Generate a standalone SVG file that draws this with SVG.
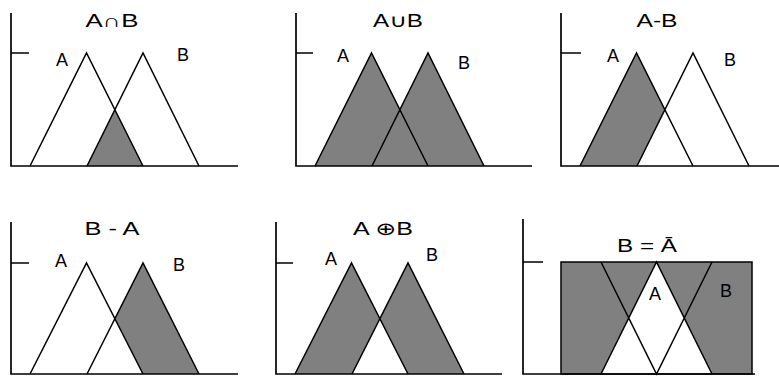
<svg xmlns="http://www.w3.org/2000/svg" width="779" height="376" viewBox="0 0 779 376">
<style>
.ax{stroke:#000;stroke-width:1.7;fill:none}
.tri{stroke:#000;stroke-width:1.5;fill:none;stroke-linejoin:miter}
.sh{fill:#808080;stroke:none}
.lbl{font-family:"Liberation Sans","DejaVu Sans",sans-serif;font-size:18px;fill:#000;text-anchor:middle}
</style>
<rect width="779" height="376" fill="#fff"/>

<g id="p1">
 <path class="sh" d="M87,166 L114.8,110 L143,166 Z"/>
 <path class="ax" d="M11,13 V166 H238 M11,53 H29"/>
 <path class="tri" d="M30,166 L86.5,53 L143,166 M87,166 L143,53 L199,166"/>
 <text class="lbl" x="112" y="27" textLength="53" lengthAdjust="spacingAndGlyphs">A∩B</text>
 <text class="lbl" x="62" y="66">A</text>
 <text class="lbl" x="183" y="61">B</text>
</g>

<g id="p2">
 <path class="sh" d="M315,166 L371.5,53 L428,166 Z M372,166 L428,53 L484,166 Z"/>
 <path class="ax" d="M296,13 V166 H532 M296,53 H313"/>
 <path class="tri" d="M315,166 L371.5,53 L428,166 M372,166 L428,53 L484,166"/>
 <text class="lbl" x="398" y="27" textLength="50" lengthAdjust="spacingAndGlyphs">A∪B</text>
 <text class="lbl" x="343" y="62">A</text>
 <text class="lbl" x="464" y="69">B</text>
</g>

<g id="p3">
 <path class="sh" d="M580,166 L636.5,53 L664.8,110 L637,166 Z"/>
 <path class="ax" d="M561,13 V166 H779 M561,53 H581"/>
 <path class="tri" d="M580,166 L636.5,53 L693,166 M637,166 L693,53 L749,166"/>
 <text class="lbl" x="657" y="27" textLength="41" lengthAdjust="spacingAndGlyphs">A-B</text>
 <text class="lbl" x="613" y="62">A</text>
 <text class="lbl" x="730" y="66">B</text>
</g>

<g id="p4">
 <path class="sh" d="M114.8,318.5 L143,263 L199,374 L143,374 Z"/>
 <path class="ax" d="M11,222 V374 H238 M11,263 H29"/>
 <path class="tri" d="M30,374 L86.5,263 L143,374 M87,374 L143,263 L199,374"/>
 <text class="lbl" x="112" y="235" textLength="55" lengthAdjust="spacingAndGlyphs">B - A</text>
 <text class="lbl" x="61" y="267">A</text>
 <text class="lbl" x="179" y="271">B</text>
</g>

<g id="p5">
 <path class="sh" d="M295,374 L351.5,263 L379.8,318.5 L352,374 Z M379.8,318.5 L408,263 L464,374 L408,374 Z"/>
 <path class="ax" d="M276,222 V374 H502 M276,263 H293"/>
 <path class="tri" d="M295,374 L351.5,263 L408,374 M352,374 L408,263 L464,374"/>
 <text class="lbl" x="383" y="235" textLength="60" lengthAdjust="spacingAndGlyphs">A ⊕B</text>
 <text class="lbl" x="331" y="265">A</text>
 <text class="lbl" x="432" y="261">B</text>
</g>

<g id="p6">
 <path class="sh" fill-rule="evenodd" d="M561,262 H752 V374 H561 Z M601,374 L656.5,262 L712,374 Z"/>
 <rect x="561" y="262" width="191" height="112" class="tri"/>
 <path class="ax" d="M523,219 V374 H755 M523,262 H543"/>
 <path class="tri" d="M601,374 L656.5,262 L712,374 M601,262 L656.5,374 L712,262"/>
 <text class="lbl" x="647" y="252" textLength="60" lengthAdjust="spacingAndGlyphs">B = Ā</text>
 <text class="lbl" x="655" y="300">A</text>
 <text class="lbl" x="726" y="297">B</text>
</g>
</svg>
